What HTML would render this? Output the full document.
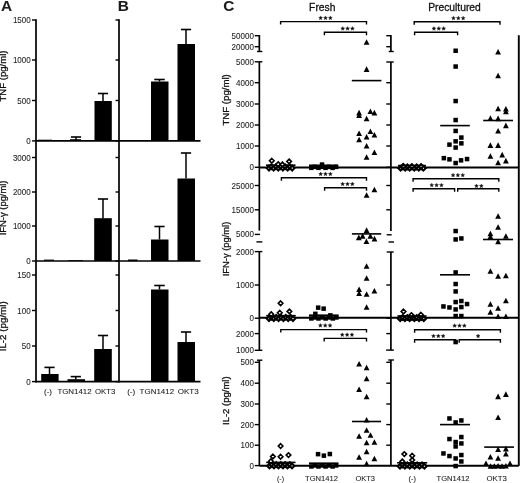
<!DOCTYPE html>
<html><head><meta charset="utf-8"><style>
html,body{margin:0;padding:0;background:#fff;}
svg{display:block;will-change:transform;}
text{font-family:"Liberation Sans",sans-serif;fill:#1c1c1c;stroke:#1c1c1c;stroke-width:0.08;}
line{stroke:#000;stroke-linecap:butt;}
.f{fill:#000;}
text.vt{fill:#111;stroke:#111;stroke-width:0.3;}
.d{fill:#fff;stroke:#000;stroke-width:1.6;}
.d2{fill:#fff;stroke:#000;stroke-width:2.1;}
.s{fill:#111;stroke:#111;stroke-width:0.35;stroke-linejoin:round;}
.b{fill:none;stroke:#000;stroke-width:1.4;}
</style></head><body>
<svg width="520" height="483" viewBox="0 0 520 483">
<rect width="520" height="483" fill="#fff"/>
<text x="0.9" y="10.7" font-size="15.4" text-anchor="start" font-weight="bold">A</text>
<text x="117.7" y="10.7" font-size="15.4" text-anchor="start" font-weight="bold">B</text>
<text x="223.2" y="10.7" font-size="15.4" text-anchor="start" font-weight="bold">C</text>
<line x1="36.0" y1="19.3" x2="36.0" y2="382.4" stroke-width="1.7"/>
<line x1="32.0" y1="20" x2="36.0" y2="20" stroke-width="1.4"/>
<text x="30.7" y="23.024" font-size="8.4" text-anchor="end" textLength="17.8" lengthAdjust="spacingAndGlyphs">1500</text>
<line x1="32.0" y1="60" x2="36.0" y2="60" stroke-width="1.4"/>
<text x="30.7" y="63.024" font-size="8.4" text-anchor="end" textLength="17.8" lengthAdjust="spacingAndGlyphs">1000</text>
<line x1="32.0" y1="100.5" x2="36.0" y2="100.5" stroke-width="1.4"/>
<text x="30.7" y="103.524" font-size="8.4" text-anchor="end" textLength="13.35" lengthAdjust="spacingAndGlyphs">500</text>
<line x1="32.0" y1="140.9" x2="36.0" y2="140.9" stroke-width="1.4"/>
<text x="30.7" y="143.924" font-size="8.4" text-anchor="end" textLength="4.45" lengthAdjust="spacingAndGlyphs">0</text>
<line x1="32.0" y1="157.5" x2="36.0" y2="157.5" stroke-width="1.4"/>
<text x="30.7" y="160.524" font-size="8.4" text-anchor="end" textLength="17.8" lengthAdjust="spacingAndGlyphs">3000</text>
<line x1="32.0" y1="192" x2="36.0" y2="192" stroke-width="1.4"/>
<text x="30.7" y="195.024" font-size="8.4" text-anchor="end" textLength="17.8" lengthAdjust="spacingAndGlyphs">2000</text>
<line x1="32.0" y1="226" x2="36.0" y2="226" stroke-width="1.4"/>
<text x="30.7" y="229.024" font-size="8.4" text-anchor="end" textLength="17.8" lengthAdjust="spacingAndGlyphs">1000</text>
<line x1="32.0" y1="261.0" x2="36.0" y2="261.0" stroke-width="1.4"/>
<text x="30.7" y="264.024" font-size="8.4" text-anchor="end" textLength="4.45" lengthAdjust="spacingAndGlyphs">0</text>
<line x1="32.0" y1="275" x2="36.0" y2="275" stroke-width="1.4"/>
<text x="30.7" y="278.024" font-size="8.4" text-anchor="end" textLength="13.35" lengthAdjust="spacingAndGlyphs">150</text>
<line x1="32.0" y1="310.5" x2="36.0" y2="310.5" stroke-width="1.4"/>
<text x="30.7" y="313.524" font-size="8.4" text-anchor="end" textLength="13.35" lengthAdjust="spacingAndGlyphs">100</text>
<line x1="32.0" y1="346" x2="36.0" y2="346" stroke-width="1.4"/>
<text x="30.7" y="349.024" font-size="8.4" text-anchor="end" textLength="8.9" lengthAdjust="spacingAndGlyphs">50</text>
<line x1="32.0" y1="381.6" x2="36.0" y2="381.6" stroke-width="1.4"/>
<text x="30.7" y="384.624" font-size="8.4" text-anchor="end" textLength="4.45" lengthAdjust="spacingAndGlyphs">0</text>
<text x="0" y="0" font-size="9.9" text-anchor="middle" transform="translate(5.9,76.05) rotate(-90)" textLength="51.0" lengthAdjust="spacingAndGlyphs" class="vt">TNF (pg/ml)</text>
<text x="0" y="0" font-size="9.9" text-anchor="middle" transform="translate(5.9,207.9) rotate(-90)" textLength="54.8" lengthAdjust="spacingAndGlyphs" class="vt">IFN-γ (pg/ml)</text>
<text x="0" y="0" font-size="9.9" text-anchor="middle" transform="translate(5.9,326.3) rotate(-90)" textLength="50.0" lengthAdjust="spacingAndGlyphs" class="vt">IL-2 (pg/ml)</text>
<line x1="36.0" y1="140.9" x2="200.5" y2="140.9" stroke-width="1.7"/>
<line x1="36.0" y1="261.0" x2="200.5" y2="261.0" stroke-width="1.7"/>
<line x1="36.0" y1="381.6" x2="200.5" y2="381.6" stroke-width="1.7"/>
<line x1="38" y1="140.2" x2="52" y2="140.2" stroke-width="1.0"/>
<line x1="76.0" y1="137.0" x2="76.0" y2="140.9" stroke-width="1.5"/>
<line x1="70.9" y1="137.0" x2="81.1" y2="137.0" stroke-width="1.6"/>
<line x1="70" y1="139.8" x2="81" y2="139.8" stroke-width="1.2"/>
<rect class="f" x="94.5" y="101.0" width="17.299999999999997" height="39.900000000000006"/>
<line x1="103.0" y1="93.5" x2="103.0" y2="101" stroke-width="1.5"/>
<line x1="97.9" y1="93.5" x2="108.1" y2="93.5" stroke-width="1.6"/>
<line x1="44" y1="260.2" x2="54" y2="260.2" stroke-width="1.2"/>
<line x1="68.5" y1="260.5" x2="83" y2="260.5" stroke-width="0.8"/>
<rect class="f" x="94.2" y="218.2" width="17.599999999999994" height="42.80000000000001"/>
<line x1="103.0" y1="199.0" x2="103.0" y2="218.5" stroke-width="1.5"/>
<line x1="97.9" y1="199.0" x2="108.1" y2="199.0" stroke-width="1.6"/>
<rect class="f" x="41.2" y="374.0" width="17.4" height="7.0"/>
<line x1="49.5" y1="367.4" x2="49.5" y2="374" stroke-width="1.5"/>
<line x1="44.4" y1="367.4" x2="54.6" y2="367.4" stroke-width="1.6"/>
<rect class="f" x="67.5" y="379.2" width="17.5" height="1.8000000000000114"/>
<line x1="75.8" y1="376.6" x2="75.8" y2="379.5" stroke-width="1.5"/>
<line x1="70.7" y1="376.6" x2="80.89999999999999" y2="376.6" stroke-width="1.6"/>
<rect class="f" x="94.2" y="349.0" width="17.599999999999994" height="32.0"/>
<line x1="103.0" y1="335.5" x2="103.0" y2="349" stroke-width="1.5"/>
<line x1="97.9" y1="335.5" x2="108.1" y2="335.5" stroke-width="1.6"/>
<text x="48.0" y="394.0" font-size="7.8" text-anchor="middle" textLength="8.0" lengthAdjust="spacingAndGlyphs">(-)</text>
<text x="74.5" y="394.0" font-size="7.8" text-anchor="middle" textLength="34.2" lengthAdjust="spacingAndGlyphs">TGN1412</text>
<text x="105.2" y="394.0" font-size="7.8" text-anchor="middle" textLength="20.4" lengthAdjust="spacingAndGlyphs">OKT3</text>
<line x1="119.0" y1="19.3" x2="119.0" y2="382.4" stroke-width="1.7"/>
<line x1="115.5" y1="20" x2="119.0" y2="20" stroke-width="1.4"/>
<line x1="115.5" y1="60" x2="119.0" y2="60" stroke-width="1.4"/>
<line x1="115.5" y1="100.5" x2="119.0" y2="100.5" stroke-width="1.4"/>
<line x1="115.5" y1="140.9" x2="119.0" y2="140.9" stroke-width="1.4"/>
<line x1="115.5" y1="157.5" x2="119.0" y2="157.5" stroke-width="1.4"/>
<line x1="115.5" y1="192" x2="119.0" y2="192" stroke-width="1.4"/>
<line x1="115.5" y1="226" x2="119.0" y2="226" stroke-width="1.4"/>
<line x1="115.5" y1="261.0" x2="119.0" y2="261.0" stroke-width="1.4"/>
<line x1="115.5" y1="275" x2="119.0" y2="275" stroke-width="1.4"/>
<line x1="115.5" y1="310.5" x2="119.0" y2="310.5" stroke-width="1.4"/>
<line x1="115.5" y1="346" x2="119.0" y2="346" stroke-width="1.4"/>
<line x1="115.5" y1="381.6" x2="119.0" y2="381.6" stroke-width="1.4"/>
<rect class="f" x="151.0" y="81.5" width="17.5" height="59.400000000000006"/>
<line x1="159.5" y1="79.5" x2="159.5" y2="81.5" stroke-width="1.5"/>
<line x1="154.25" y1="79.5" x2="164.75" y2="79.5" stroke-width="1.6"/>
<rect class="f" x="177.5" y="44.0" width="17.5" height="96.9"/>
<line x1="186.0" y1="29.5" x2="186.0" y2="44.0" stroke-width="1.5"/>
<line x1="180.9" y1="29.5" x2="191.1" y2="29.5" stroke-width="1.6"/>
<line x1="128" y1="260.3" x2="137.5" y2="260.3" stroke-width="1.6"/>
<rect class="f" x="151.0" y="239.5" width="17.5" height="21.5"/>
<line x1="159.5" y1="226.5" x2="159.5" y2="239.5" stroke-width="1.5"/>
<line x1="154.4" y1="226.5" x2="164.6" y2="226.5" stroke-width="1.6"/>
<rect class="f" x="177.5" y="178.5" width="17.5" height="82.5"/>
<line x1="186.0" y1="153.0" x2="186.0" y2="178.5" stroke-width="1.5"/>
<line x1="180.9" y1="153.0" x2="191.1" y2="153.0" stroke-width="1.6"/>
<rect class="f" x="151.0" y="289.5" width="17.5" height="91.5"/>
<line x1="159.5" y1="285.5" x2="159.5" y2="289.5" stroke-width="1.5"/>
<line x1="154.25" y1="285.5" x2="164.75" y2="285.5" stroke-width="1.6"/>
<rect class="f" x="177.5" y="342.0" width="17.5" height="39.0"/>
<line x1="186.0" y1="332.0" x2="186.0" y2="342" stroke-width="1.5"/>
<line x1="180.9" y1="332.0" x2="191.1" y2="332.0" stroke-width="1.6"/>
<text x="131.2" y="394.0" font-size="7.8" text-anchor="middle" textLength="8.0" lengthAdjust="spacingAndGlyphs">(-)</text>
<text x="156.9" y="394.0" font-size="7.8" text-anchor="middle" textLength="34.6" lengthAdjust="spacingAndGlyphs">TGN1412</text>
<text x="188.2" y="394.0" font-size="7.8" text-anchor="middle" textLength="21.0" lengthAdjust="spacingAndGlyphs">OKT3</text>
<text x="309.1" y="10.9" font-size="10.6" text-anchor="start" textLength="26.3" lengthAdjust="spacingAndGlyphs" class="vt">Fresh</text>
<text x="428.2" y="10.9" font-size="10.6" text-anchor="start" textLength="52.6" lengthAdjust="spacingAndGlyphs" class="vt">Precultured</text>
<line x1="259.35" y1="35.0" x2="259.35" y2="51.5" stroke-width="1.7"/>
<line x1="254.75000000000003" y1="35.7" x2="259.35" y2="35.7" stroke-width="1.4"/>
<text x="253.85000000000002" y="38.724000000000004" font-size="8.4" text-anchor="end" textLength="22.25" lengthAdjust="spacingAndGlyphs">50000</text>
<line x1="254.75000000000003" y1="46.7" x2="259.35" y2="46.7" stroke-width="1.4"/>
<text x="253.85000000000002" y="49.724000000000004" font-size="8.4" text-anchor="end" textLength="22.25" lengthAdjust="spacingAndGlyphs">20000</text>
<line x1="256.95000000000005" y1="51.5" x2="262.35" y2="51.5" stroke-width="1.4"/>
<line x1="259.35" y1="61.8" x2="259.35" y2="230.6" stroke-width="1.7"/>
<line x1="254.75000000000003" y1="61.8" x2="262.35" y2="61.8" stroke-width="1.4"/>
<text x="253.85000000000002" y="64.824" font-size="8.4" text-anchor="end" textLength="17.8" lengthAdjust="spacingAndGlyphs">5000</text>
<line x1="254.75000000000003" y1="82.7" x2="259.35" y2="82.7" stroke-width="1.4"/>
<text x="253.85000000000002" y="85.724" font-size="8.4" text-anchor="end" textLength="17.8" lengthAdjust="spacingAndGlyphs">4000</text>
<line x1="254.75000000000003" y1="104" x2="259.35" y2="104" stroke-width="1.4"/>
<text x="253.85000000000002" y="107.024" font-size="8.4" text-anchor="end" textLength="17.8" lengthAdjust="spacingAndGlyphs">3000</text>
<line x1="254.75000000000003" y1="125" x2="259.35" y2="125" stroke-width="1.4"/>
<text x="253.85000000000002" y="128.024" font-size="8.4" text-anchor="end" textLength="17.8" lengthAdjust="spacingAndGlyphs">2000</text>
<line x1="254.75000000000003" y1="146" x2="259.35" y2="146" stroke-width="1.4"/>
<text x="253.85000000000002" y="149.024" font-size="8.4" text-anchor="end" textLength="17.8" lengthAdjust="spacingAndGlyphs">1000</text>
<line x1="254.75000000000003" y1="167.3" x2="259.35" y2="167.3" stroke-width="1.4"/>
<text x="253.85000000000002" y="170.324" font-size="8.4" text-anchor="end" textLength="4.45" lengthAdjust="spacingAndGlyphs">0</text>
<line x1="254.75000000000003" y1="185.5" x2="259.35" y2="185.5" stroke-width="1.4"/>
<text x="253.85000000000002" y="188.524" font-size="8.4" text-anchor="end" textLength="22.25" lengthAdjust="spacingAndGlyphs">25000</text>
<line x1="254.75000000000003" y1="209.8" x2="259.35" y2="209.8" stroke-width="1.4"/>
<text x="253.85000000000002" y="212.824" font-size="8.4" text-anchor="end" textLength="22.25" lengthAdjust="spacingAndGlyphs">15000</text>
<line x1="254.75000000000003" y1="234.4" x2="259.95000000000005" y2="234.4" stroke-width="1.4"/>
<text x="253.85000000000002" y="237.424" font-size="8.4" text-anchor="end" textLength="17.8" lengthAdjust="spacingAndGlyphs">5000</text>
<line x1="256.45000000000005" y1="241.9" x2="262.35" y2="241.9" stroke-width="1.4"/>
<line x1="259.35" y1="251.6" x2="259.35" y2="350.3" stroke-width="1.7"/>
<line x1="254.75000000000003" y1="251.6" x2="262.35" y2="251.6" stroke-width="1.4"/>
<text x="253.85000000000002" y="254.624" font-size="8.4" text-anchor="end" textLength="17.8" lengthAdjust="spacingAndGlyphs">2000</text>
<line x1="254.75000000000003" y1="285" x2="259.35" y2="285" stroke-width="1.4"/>
<text x="253.85000000000002" y="288.024" font-size="8.4" text-anchor="end" textLength="17.8" lengthAdjust="spacingAndGlyphs">1000</text>
<line x1="254.75000000000003" y1="318.2" x2="259.35" y2="318.2" stroke-width="1.4"/>
<text x="253.85000000000002" y="321.224" font-size="8.4" text-anchor="end" textLength="4.45" lengthAdjust="spacingAndGlyphs">0</text>
<line x1="254.75000000000003" y1="333.6" x2="259.35" y2="333.6" stroke-width="1.4"/>
<text x="253.85000000000002" y="336.624" font-size="8.4" text-anchor="end" textLength="17.8" lengthAdjust="spacingAndGlyphs">2000</text>
<line x1="254.75000000000003" y1="350.3" x2="262.35" y2="350.3" stroke-width="1.4"/>
<text x="253.85000000000002" y="353.324" font-size="8.4" text-anchor="end" textLength="17.8" lengthAdjust="spacingAndGlyphs">1000</text>
<line x1="259.35" y1="360.2" x2="259.35" y2="466.0" stroke-width="1.7"/>
<line x1="256.95000000000005" y1="360.2" x2="262.35" y2="360.2" stroke-width="1.4"/>
<line x1="254.75000000000003" y1="362.3" x2="259.35" y2="362.3" stroke-width="1.4"/>
<text x="253.85000000000002" y="365.324" font-size="8.4" text-anchor="end" textLength="13.35" lengthAdjust="spacingAndGlyphs">500</text>
<line x1="254.75000000000003" y1="383.2" x2="259.35" y2="383.2" stroke-width="1.4"/>
<text x="253.85000000000002" y="386.224" font-size="8.4" text-anchor="end" textLength="13.35" lengthAdjust="spacingAndGlyphs">400</text>
<line x1="254.75000000000003" y1="404.0" x2="259.35" y2="404.0" stroke-width="1.4"/>
<text x="253.85000000000002" y="407.024" font-size="8.4" text-anchor="end" textLength="13.35" lengthAdjust="spacingAndGlyphs">300</text>
<line x1="254.75000000000003" y1="424.6" x2="259.35" y2="424.6" stroke-width="1.4"/>
<text x="253.85000000000002" y="427.624" font-size="8.4" text-anchor="end" textLength="13.35" lengthAdjust="spacingAndGlyphs">200</text>
<line x1="254.75000000000003" y1="445.2" x2="259.35" y2="445.2" stroke-width="1.4"/>
<text x="253.85000000000002" y="448.224" font-size="8.4" text-anchor="end" textLength="13.35" lengthAdjust="spacingAndGlyphs">100</text>
<line x1="254.75000000000003" y1="465.6" x2="259.35" y2="465.6" stroke-width="1.4"/>
<text x="253.85000000000002" y="468.624" font-size="8.4" text-anchor="end" textLength="4.45" lengthAdjust="spacingAndGlyphs">0</text>
<text x="0" y="0" font-size="9.9" text-anchor="middle" transform="translate(228.5,99.9) rotate(-90)" textLength="51.3" lengthAdjust="spacingAndGlyphs" class="vt">TNF (pg/ml)</text>
<text x="0" y="0" font-size="9.9" text-anchor="middle" transform="translate(228.5,249.0) rotate(-90)" textLength="54.6" lengthAdjust="spacingAndGlyphs" class="vt">IFN-γ (pg/ml)</text>
<text x="0" y="0" font-size="9.9" text-anchor="middle" transform="translate(228.7,400.7) rotate(-90)" textLength="48.5" lengthAdjust="spacingAndGlyphs" class="vt">IL-2 (pg/ml)</text>
<line x1="390.9" y1="35.0" x2="390.9" y2="51.5" stroke-width="1.7"/>
<line x1="386.29999999999995" y1="35.7" x2="390.9" y2="35.7" stroke-width="1.4"/>
<line x1="386.29999999999995" y1="46.7" x2="390.9" y2="46.7" stroke-width="1.4"/>
<line x1="388.7" y1="51.5" x2="393.7" y2="51.5" stroke-width="1.4"/>
<line x1="390.9" y1="62.0" x2="390.9" y2="231.0" stroke-width="1.7"/>
<line x1="386.29999999999995" y1="62.0" x2="393.7" y2="62.0" stroke-width="1.4"/>
<line x1="386.29999999999995" y1="82.7" x2="390.9" y2="82.7" stroke-width="1.4"/>
<line x1="386.29999999999995" y1="104" x2="390.9" y2="104" stroke-width="1.4"/>
<line x1="386.29999999999995" y1="125" x2="390.9" y2="125" stroke-width="1.4"/>
<line x1="386.29999999999995" y1="146" x2="390.9" y2="146" stroke-width="1.4"/>
<line x1="386.29999999999995" y1="167.3" x2="390.9" y2="167.3" stroke-width="1.4"/>
<line x1="386.29999999999995" y1="185.5" x2="390.9" y2="185.5" stroke-width="1.4"/>
<line x1="386.29999999999995" y1="209.8" x2="390.9" y2="209.8" stroke-width="1.4"/>
<line x1="386.7" y1="234.8" x2="391.7" y2="234.8" stroke-width="1.4"/>
<line x1="388.5" y1="242.0" x2="394.0" y2="242.0" stroke-width="1.4"/>
<line x1="390.9" y1="252.0" x2="390.9" y2="350.2" stroke-width="1.7"/>
<line x1="386.7" y1="252.0" x2="393.7" y2="252.0" stroke-width="1.4"/>
<line x1="386.29999999999995" y1="285" x2="390.9" y2="285" stroke-width="1.4"/>
<line x1="386.29999999999995" y1="318.2" x2="390.9" y2="318.2" stroke-width="1.4"/>
<line x1="386.29999999999995" y1="333.6" x2="390.9" y2="333.6" stroke-width="1.4"/>
<line x1="386.09999999999997" y1="350.1" x2="393.9" y2="350.1" stroke-width="1.4"/>
<line x1="390.9" y1="360.0" x2="390.9" y2="466.0" stroke-width="1.7"/>
<line x1="388.29999999999995" y1="360.0" x2="393.9" y2="360.0" stroke-width="1.4"/>
<line x1="386.29999999999995" y1="362.3" x2="390.9" y2="362.3" stroke-width="1.4"/>
<line x1="386.29999999999995" y1="383.2" x2="390.9" y2="383.2" stroke-width="1.4"/>
<line x1="386.29999999999995" y1="404.0" x2="390.9" y2="404.0" stroke-width="1.4"/>
<line x1="386.29999999999995" y1="424.6" x2="390.9" y2="424.6" stroke-width="1.4"/>
<line x1="386.29999999999995" y1="445.2" x2="390.9" y2="445.2" stroke-width="1.4"/>
<line x1="518.8" y1="35.2" x2="518.8" y2="466.0" stroke-width="1.9"/>
<line x1="259.35" y1="167.5" x2="518.8" y2="167.5" stroke-width="1.9"/>
<line x1="259.35" y1="317.8" x2="518.8" y2="317.8" stroke-width="1.9"/>
<line x1="259.35" y1="465.7" x2="518.8" y2="465.7" stroke-width="1.9"/>
<path class="b" d="M280.6,24.6 V21.6 H366.5 V24.6"/>
<polygon class="s" points="320.65,15.95 321.21,17.23 322.60,17.37 321.55,18.29 321.85,19.66 320.65,18.95 319.45,19.66 319.75,18.29 318.70,17.37 320.09,17.23"/>
<polygon class="s" points="325.50,15.95 326.06,17.23 327.45,17.37 326.40,18.29 326.70,19.66 325.50,18.95 324.30,19.66 324.60,18.29 323.55,17.37 324.94,17.23"/>
<polygon class="s" points="330.35,15.95 330.91,17.23 332.30,17.37 331.25,18.29 331.55,19.66 330.35,18.95 329.15,19.66 329.45,18.29 328.40,17.37 329.79,17.23"/>
<path class="b" d="M324.4,35.2 V32.2 H366.5 V35.2"/>
<polygon class="s" points="342.75,26.55 343.31,27.83 344.70,27.97 343.65,28.89 343.95,30.26 342.75,29.55 341.55,30.26 341.85,28.89 340.80,27.97 342.19,27.83"/>
<polygon class="s" points="347.60,26.55 348.16,27.83 349.55,27.97 348.50,28.89 348.80,30.26 347.60,29.55 346.40,30.26 346.70,28.89 345.65,27.97 347.04,27.83"/>
<polygon class="s" points="352.45,26.55 353.01,27.83 354.40,27.97 353.35,28.89 353.65,30.26 352.45,29.55 351.25,30.26 351.55,28.89 350.50,27.97 351.89,27.83"/>
<path class="b" d="M414.2,24.8 V21.8 H500.0 V24.8"/>
<polygon class="s" points="453.45,16.15 454.01,17.43 455.40,17.57 454.35,18.49 454.65,19.86 453.45,19.15 452.25,19.86 452.55,18.49 451.50,17.57 452.89,17.43"/>
<polygon class="s" points="458.30,16.15 458.86,17.43 460.25,17.57 459.20,18.49 459.50,19.86 458.30,19.15 457.10,19.86 457.40,18.49 456.35,17.57 457.74,17.43"/>
<polygon class="s" points="463.15,16.15 463.71,17.43 465.10,17.57 464.05,18.49 464.35,19.86 463.15,19.15 461.95,19.86 462.25,18.49 461.20,17.57 462.59,17.43"/>
<path class="b" d="M414.6,35.2 V32.2 H457.6 V35.2"/>
<polygon class="s" points="433.95,26.55 434.51,27.83 435.90,27.97 434.85,28.89 435.15,30.26 433.95,29.55 432.75,30.26 433.05,28.89 432.00,27.97 433.39,27.83"/>
<polygon class="s" points="438.80,26.55 439.36,27.83 440.75,27.97 439.70,28.89 440.00,30.26 438.80,29.55 437.60,30.26 437.90,28.89 436.85,27.97 438.24,27.83"/>
<polygon class="s" points="443.65,26.55 444.21,27.83 445.60,27.97 444.55,28.89 444.85,30.26 443.65,29.55 442.45,30.26 442.75,28.89 441.70,27.97 443.09,27.83"/>
<path class="b" d="M281.4,180.7 V177.7 H366.5 V180.7"/>
<polygon class="s" points="320.65,172.05 321.21,173.33 322.60,173.47 321.55,174.39 321.85,175.76 320.65,175.05 319.45,175.76 319.75,174.39 318.70,173.47 320.09,173.33"/>
<polygon class="s" points="325.50,172.05 326.06,173.33 327.45,173.47 326.40,174.39 326.70,175.76 325.50,175.05 324.30,175.76 324.60,174.39 323.55,173.47 324.94,173.33"/>
<polygon class="s" points="330.35,172.05 330.91,173.33 332.30,173.47 331.25,174.39 331.55,175.76 330.35,175.05 329.15,175.76 329.45,174.39 328.40,173.47 329.79,173.33"/>
<path class="b" d="M324.6,190.7 V187.7 H366.5 V190.7"/>
<polygon class="s" points="342.65,182.05 343.21,183.33 344.60,183.47 343.55,184.39 343.85,185.76 342.65,185.05 341.45,185.76 341.75,184.39 340.70,183.47 342.09,183.33"/>
<polygon class="s" points="347.50,182.05 348.06,183.33 349.45,183.47 348.40,184.39 348.70,185.76 347.50,185.05 346.30,185.76 346.60,184.39 345.55,183.47 346.94,183.33"/>
<polygon class="s" points="352.35,182.05 352.91,183.33 354.30,183.47 353.25,184.39 353.55,185.76 352.35,185.05 351.15,185.76 351.45,184.39 350.40,183.47 351.79,183.33"/>
<path class="b" d="M413.1,181.8 V178.8 H498.8 V181.8"/>
<polygon class="s" points="453.05,173.15 453.61,174.43 455.00,174.57 453.95,175.49 454.25,176.86 453.05,176.15 451.85,176.86 452.15,175.49 451.10,174.57 452.49,174.43"/>
<polygon class="s" points="457.90,173.15 458.46,174.43 459.85,174.57 458.80,175.49 459.10,176.86 457.90,176.15 456.70,176.86 457.00,175.49 455.95,174.57 457.34,174.43"/>
<polygon class="s" points="462.75,173.15 463.31,174.43 464.70,174.57 463.65,175.49 463.95,176.86 462.75,176.15 461.55,176.86 461.85,175.49 460.80,174.57 462.19,174.43"/>
<path class="b" d="M413.1,191.8 V188.8 H454.6 V191.8"/>
<polygon class="s" points="431.75,183.15 432.31,184.43 433.70,184.57 432.65,185.49 432.95,186.86 431.75,186.15 430.55,186.86 430.85,185.49 429.80,184.57 431.19,184.43"/>
<polygon class="s" points="436.60,183.15 437.16,184.43 438.55,184.57 437.50,185.49 437.80,186.86 436.60,186.15 435.40,186.86 435.70,185.49 434.65,184.57 436.04,184.43"/>
<polygon class="s" points="441.45,183.15 442.01,184.43 443.40,184.57 442.35,185.49 442.65,186.86 441.45,186.15 440.25,186.86 440.55,185.49 439.50,184.57 440.89,184.43"/>
<path class="b" d="M457.7,191.8 V188.8 H498.8 V191.8"/>
<polygon class="s" points="476.47,183.95 477.03,185.23 478.42,185.37 477.38,186.29 477.68,187.66 476.47,186.95 475.27,187.66 475.57,186.29 474.53,185.37 475.92,185.23"/>
<polygon class="s" points="481.32,183.95 481.88,185.23 483.27,185.37 482.23,186.29 482.53,187.66 481.32,186.95 480.12,187.66 480.42,186.29 479.38,185.37 480.77,185.23"/>
<path class="b" d="M280.8,332.6 V329.6 H366.5 V332.6"/>
<polygon class="s" points="320.35,323.45 320.91,324.73 322.30,324.87 321.25,325.79 321.55,327.16 320.35,326.45 319.15,327.16 319.45,325.79 318.40,324.87 319.79,324.73"/>
<polygon class="s" points="325.20,323.45 325.76,324.73 327.15,324.87 326.10,325.79 326.40,327.16 325.20,326.45 324.00,327.16 324.30,325.79 323.25,324.87 324.64,324.73"/>
<polygon class="s" points="330.05,323.45 330.61,324.73 332.00,324.87 330.95,325.79 331.25,327.16 330.05,326.45 328.85,327.16 329.15,325.79 328.10,324.87 329.49,324.73"/>
<path class="b" d="M324.2,341.4 V338.4 H366.5 V341.4"/>
<polygon class="s" points="342.25,332.75 342.81,334.03 344.20,334.17 343.15,335.09 343.45,336.46 342.25,335.75 341.05,336.46 341.35,335.09 340.30,334.17 341.69,334.03"/>
<polygon class="s" points="347.10,332.75 347.66,334.03 349.05,334.17 348.00,335.09 348.30,336.46 347.10,335.75 345.90,336.46 346.20,335.09 345.15,334.17 346.54,334.03"/>
<polygon class="s" points="351.95,332.75 352.51,334.03 353.90,334.17 352.85,335.09 353.15,336.46 351.95,335.75 350.75,336.46 351.05,335.09 350.00,334.17 351.39,334.03"/>
<path class="b" d="M414.6,332.7 V329.7 H500.4 V332.7"/>
<polygon class="s" points="454.65,323.65 455.21,324.93 456.60,325.07 455.55,325.99 455.85,327.36 454.65,326.65 453.45,327.36 453.75,325.99 452.70,325.07 454.09,324.93"/>
<polygon class="s" points="459.50,323.65 460.06,324.93 461.45,325.07 460.40,325.99 460.70,327.36 459.50,326.65 458.30,327.36 458.60,325.99 457.55,325.07 458.94,324.93"/>
<polygon class="s" points="464.35,323.65 464.91,324.93 466.30,325.07 465.25,325.99 465.55,327.36 464.35,326.65 463.15,327.36 463.45,325.99 462.40,325.07 463.79,324.93"/>
<path class="b" d="M414.6,342.7 V339.7 H455.6 V342.7"/>
<polygon class="s" points="433.45,334.05 434.01,335.33 435.40,335.47 434.35,336.39 434.65,337.76 433.45,337.05 432.25,337.76 432.55,336.39 431.50,335.47 432.89,335.33"/>
<polygon class="s" points="438.30,334.05 438.86,335.33 440.25,335.47 439.20,336.39 439.50,337.76 438.30,337.05 437.10,337.76 437.40,336.39 436.35,335.47 437.74,335.33"/>
<polygon class="s" points="443.15,334.05 443.71,335.33 445.10,335.47 444.05,336.39 444.35,337.76 443.15,337.05 441.95,337.76 442.25,336.39 441.20,335.47 442.59,335.33"/>
<path class="b" d="M459.2,342.7 V339.7 H500.4 V342.7"/>
<polygon class="s" points="478.10,334.05 478.66,335.33 480.05,335.47 479.00,336.39 479.30,337.76 478.10,337.05 476.90,337.76 477.20,336.39 476.15,335.47 477.54,335.33"/>
<polygon class="d2" points="269.0,165.8 271.3,168.1 269.0,170.4 266.7,168.1"/>
<polygon class="d2" points="271.3,164.5 273.6,166.8 271.3,169.1 269.0,166.8"/>
<polygon class="d2" points="273.6,165.8 275.9,168.1 273.6,170.4 271.3,168.1"/>
<polygon class="d2" points="276.0,164.5 278.3,166.8 276.0,169.1 273.7,166.8"/>
<polygon class="d2" points="278.3,165.8 280.6,168.1 278.3,170.4 276.0,168.1"/>
<polygon class="d2" points="280.6,164.5 282.9,166.8 280.6,169.1 278.3,166.8"/>
<polygon class="d2" points="282.9,165.8 285.2,168.1 282.9,170.4 280.6,168.1"/>
<polygon class="d2" points="285.2,164.5 287.5,166.8 285.2,169.1 282.9,166.8"/>
<polygon class="d2" points="287.6,165.8 289.9,168.1 287.6,170.4 285.3,168.1"/>
<polygon class="d2" points="289.9,164.5 292.2,166.8 289.9,169.1 287.6,166.8"/>
<polygon class="d2" points="292.2,165.8 294.5,168.1 292.2,170.4 289.9,168.1"/>
<line x1="266.0" y1="165.2" x2="295.5" y2="165.2" stroke-width="1.6"/>
<polygon class="d" points="271.8,158.5 274.1,160.8 271.8,163.1 269.5,160.8"/>
<polygon class="d" points="289.1,159.1 291.4,161.4 289.1,163.7 286.8,161.4"/>
<polygon class="d" points="278.2,161.9 280.5,164.2 278.2,166.5 275.9,164.2"/>
<polygon class="d" points="282.4,162.1 284.7,164.4 282.4,166.7 280.1,164.4"/>
<polygon class="d2" points="269.0,316.3 271.3,318.6 269.0,320.9 266.7,318.6"/>
<polygon class="d2" points="271.4,315.0 273.7,317.3 271.4,319.6 269.1,317.3"/>
<polygon class="d2" points="273.8,316.3 276.1,318.6 273.8,320.9 271.5,318.6"/>
<polygon class="d2" points="276.2,315.0 278.5,317.3 276.2,319.6 273.9,317.3"/>
<polygon class="d2" points="278.6,316.3 280.9,318.6 278.6,320.9 276.3,318.6"/>
<polygon class="d2" points="281.0,315.0 283.3,317.3 281.0,319.6 278.7,317.3"/>
<polygon class="d2" points="283.4,316.3 285.7,318.6 283.4,320.9 281.1,318.6"/>
<polygon class="d2" points="285.8,315.0 288.1,317.3 285.8,319.6 283.5,317.3"/>
<polygon class="d2" points="288.2,316.3 290.5,318.6 288.2,320.9 285.9,318.6"/>
<polygon class="d2" points="290.6,315.0 292.9,317.3 290.6,319.6 288.3,317.3"/>
<polygon class="d2" points="293.0,316.3 295.3,318.6 293.0,320.9 290.7,318.6"/>
<line x1="266.2" y1="315.7" x2="295.8" y2="315.7" stroke-width="1.6"/>
<polygon class="d" points="280.6,301.0 282.9,303.3 280.6,305.6 278.3,303.3"/>
<polygon class="d" points="289.4,309.1 291.7,311.4 289.4,313.7 287.1,311.4"/>
<polygon class="d" points="279.8,310.5 282.1,312.8 279.8,315.1 277.5,312.8"/>
<polygon class="d" points="271.2,311.9 273.5,314.2 271.2,316.5 268.9,314.2"/>
<polygon class="d2" points="269.5,463.6 271.8,465.9 269.5,468.2 267.2,465.9"/>
<polygon class="d2" points="271.8,462.3 274.1,464.6 271.8,466.9 269.4,464.6"/>
<polygon class="d2" points="274.0,463.6 276.3,465.9 274.0,468.2 271.7,465.9"/>
<polygon class="d2" points="276.2,462.3 278.6,464.6 276.2,466.9 273.9,464.6"/>
<polygon class="d2" points="278.5,463.6 280.8,465.9 278.5,468.2 276.2,465.9"/>
<polygon class="d2" points="280.8,462.3 283.1,464.6 280.8,466.9 278.4,464.6"/>
<polygon class="d2" points="283.0,463.6 285.3,465.9 283.0,468.2 280.7,465.9"/>
<polygon class="d2" points="285.2,462.3 287.6,464.6 285.2,466.9 282.9,464.6"/>
<polygon class="d2" points="287.5,463.6 289.8,465.9 287.5,468.2 285.2,465.9"/>
<polygon class="d2" points="289.8,462.3 292.1,464.6 289.8,466.9 287.4,464.6"/>
<polygon class="d2" points="292.0,463.6 294.3,465.9 292.0,468.2 289.7,465.9"/>
<line x1="266.2" y1="462.4" x2="295.5" y2="462.4" stroke-width="1.6"/>
<polygon class="d" points="280.6,443.7 282.9,446.0 280.6,448.3 278.3,446.0"/>
<polygon class="d" points="272.9,454.2 275.2,456.5 272.9,458.8 270.6,456.5"/>
<polygon class="d" points="280.6,454.5 282.9,456.8 280.6,459.1 278.3,456.8"/>
<polygon class="d" points="288.5,452.8 290.8,455.1 288.5,457.4 286.2,455.1"/>
<polygon class="d" points="270.9,458.9 273.2,461.2 270.9,463.5 268.6,461.2"/>
<rect class="f" x="309.1" y="165.6" width="4.5" height="4.5"/>
<rect class="f" x="312.6" y="164.6" width="4.5" height="4.5"/>
<rect class="f" x="316.2" y="165.6" width="4.5" height="4.5"/>
<rect class="f" x="319.7" y="164.6" width="4.5" height="4.5"/>
<rect class="f" x="323.3" y="165.6" width="4.5" height="4.5"/>
<rect class="f" x="326.8" y="164.6" width="4.5" height="4.5"/>
<rect class="f" x="330.4" y="165.6" width="4.5" height="4.5"/>
<rect class="f" x="333.9" y="164.6" width="4.5" height="4.5"/>
<line x1="309.0" y1="165.3" x2="337.6" y2="165.3" stroke-width="1.6"/>
<rect class="f" x="319.8" y="162.3" width="4.5" height="4.5"/>
<rect class="f" x="315.9" y="305.4" width="4.5" height="4.5"/>
<rect class="f" x="321.4" y="306.4" width="4.5" height="4.5"/>
<rect class="f" x="313.1" y="311.6" width="4.5" height="4.5"/>
<rect class="f" x="328.1" y="313.1" width="4.5" height="4.5"/>
<rect class="f" x="309.1" y="316.2" width="4.5" height="4.5"/>
<rect class="f" x="312.6" y="315.2" width="4.5" height="4.5"/>
<rect class="f" x="316.2" y="316.2" width="4.5" height="4.5"/>
<rect class="f" x="319.8" y="315.2" width="4.5" height="4.5"/>
<rect class="f" x="323.4" y="316.2" width="4.5" height="4.5"/>
<rect class="f" x="327.0" y="315.2" width="4.5" height="4.5"/>
<rect class="f" x="330.6" y="316.2" width="4.5" height="4.5"/>
<rect class="f" x="334.1" y="315.2" width="4.5" height="4.5"/>
<line x1="309.0" y1="315.2" x2="338.6" y2="315.2" stroke-width="1.6"/>
<rect class="f" x="315.8" y="451.9" width="4.5" height="4.5"/>
<rect class="f" x="321.6" y="453.4" width="4.5" height="4.5"/>
<rect class="f" x="327.6" y="451.8" width="4.5" height="4.5"/>
<rect class="f" x="309.1" y="464.2" width="4.5" height="4.5"/>
<rect class="f" x="312.6" y="463.2" width="4.5" height="4.5"/>
<rect class="f" x="316.2" y="464.2" width="4.5" height="4.5"/>
<rect class="f" x="319.7" y="463.2" width="4.5" height="4.5"/>
<rect class="f" x="323.3" y="464.2" width="4.5" height="4.5"/>
<rect class="f" x="326.8" y="463.2" width="4.5" height="4.5"/>
<rect class="f" x="330.4" y="464.2" width="4.5" height="4.5"/>
<rect class="f" x="333.9" y="463.2" width="4.5" height="4.5"/>
<line x1="309.0" y1="463.2" x2="338.4" y2="463.2" stroke-width="1.6"/>
<polygon class="f" points="366.6,39.2 369.5,44.8 363.7,44.8"/>
<polygon class="f" points="366.6,66.3 369.5,71.9 363.7,71.9"/>
<polygon class="f" points="359.1,109.8 362.0,115.4 356.2,115.4"/>
<polygon class="f" points="359.1,112.4 362.0,118.0 356.2,118.0"/>
<polygon class="f" points="370.4,108.5 373.3,114.1 367.5,114.1"/>
<polygon class="f" points="374.4,109.8 377.3,115.4 371.5,115.4"/>
<polygon class="f" points="366.6,115.7 369.5,121.3 363.7,121.3"/>
<polygon class="f" points="359.1,130.5 362.0,136.1 356.2,136.1"/>
<polygon class="f" points="370.4,128.4 373.3,134.0 367.5,134.0"/>
<polygon class="f" points="374.4,131.9 377.3,137.5 371.5,137.5"/>
<polygon class="f" points="366.6,134.0 369.5,139.6 363.7,139.6"/>
<polygon class="f" points="359.1,136.7 362.0,142.3 356.2,142.3"/>
<polygon class="f" points="366.6,143.0 369.5,148.6 363.7,148.6"/>
<polygon class="f" points="374.4,149.4 377.3,155.0 371.5,155.0"/>
<polygon class="f" points="366.6,154.2 369.5,159.8 363.7,159.8"/>
<line x1="351.8" y1="80.6" x2="381.4" y2="80.6" stroke-width="1.6"/>
<polygon class="f" points="374.4,186.7 377.3,192.3 371.5,192.3"/>
<polygon class="f" points="366.6,192.2 369.5,197.8 363.7,197.8"/>
<polygon class="f" points="366.6,227.3 369.5,232.9 363.7,232.9"/>
<polygon class="f" points="358.8,234.6 361.7,240.2 355.9,240.2"/>
<polygon class="f" points="362.6,233.1 365.5,238.7 359.7,238.7"/>
<polygon class="f" points="370.4,233.1 373.3,238.7 367.5,238.7"/>
<polygon class="f" points="374.5,235.8 377.4,241.4 371.6,241.4"/>
<polygon class="f" points="366.4,238.4 369.3,244.0 363.5,244.0"/>
<polygon class="f" points="366.6,263.2 369.5,268.8 363.7,268.8"/>
<polygon class="f" points="366.6,275.2 369.5,280.8 363.7,280.8"/>
<polygon class="f" points="359.1,286.4 362.0,292.0 356.2,292.0"/>
<polygon class="f" points="359.1,290.4 362.0,296.0 356.2,296.0"/>
<polygon class="f" points="366.6,291.2 369.5,296.8 363.7,296.8"/>
<polygon class="f" points="374.4,287.9 377.3,293.5 371.5,293.5"/>
<polygon class="f" points="366.6,304.2 369.5,309.8 363.7,309.8"/>
<line x1="351.9" y1="233.9" x2="381.2" y2="233.9" stroke-width="1.6"/>
<polygon class="f" points="359.1,361.0 362.0,366.6 356.2,366.6"/>
<polygon class="f" points="366.6,364.7 369.5,370.3 363.7,370.3"/>
<polygon class="f" points="366.6,375.7 369.5,381.3 363.7,381.3"/>
<polygon class="f" points="359.1,386.5 362.0,392.1 356.2,392.1"/>
<polygon class="f" points="366.6,393.7 369.5,399.3 363.7,399.3"/>
<polygon class="f" points="366.6,417.0 369.5,422.6 363.7,422.6"/>
<polygon class="f" points="366.6,427.2 369.5,432.8 363.7,432.8"/>
<polygon class="f" points="359.1,433.2 362.0,438.8 356.2,438.8"/>
<polygon class="f" points="370.5,432.2 373.4,437.8 367.6,437.8"/>
<polygon class="f" points="366.6,439.7 369.5,445.3 363.7,445.3"/>
<polygon class="f" points="374.4,439.2 377.3,444.8 371.5,444.8"/>
<polygon class="f" points="366.6,448.7 369.5,454.3 363.7,454.3"/>
<polygon class="f" points="359.1,454.2 362.0,459.8 356.2,459.8"/>
<polygon class="f" points="374.4,455.7 377.3,461.3 371.5,461.3"/>
<polygon class="f" points="366.6,460.7 369.5,466.3 363.7,466.3"/>
<line x1="352.0" y1="421.5" x2="381.0" y2="421.5" stroke-width="1.6"/>
<polygon class="d2" points="400.6,165.9 402.9,168.2 400.6,170.5 398.3,168.2"/>
<polygon class="d2" points="402.9,164.6 405.2,166.9 402.9,169.2 400.6,166.9"/>
<polygon class="d2" points="405.2,165.9 407.5,168.2 405.2,170.5 402.9,168.2"/>
<polygon class="d2" points="407.4,164.6 409.7,166.9 407.4,169.2 405.1,166.9"/>
<polygon class="d2" points="409.7,165.9 412.0,168.2 409.7,170.5 407.4,168.2"/>
<polygon class="d2" points="412.0,164.6 414.3,166.9 412.0,169.2 409.7,166.9"/>
<polygon class="d2" points="414.3,165.9 416.6,168.2 414.3,170.5 412.0,168.2"/>
<polygon class="d2" points="416.6,164.6 418.9,166.9 416.6,169.2 414.3,166.9"/>
<polygon class="d2" points="418.8,165.9 421.1,168.2 418.8,170.5 416.5,168.2"/>
<polygon class="d2" points="421.1,164.6 423.4,166.9 421.1,169.2 418.8,166.9"/>
<polygon class="d2" points="423.4,165.9 425.7,168.2 423.4,170.5 421.1,168.2"/>
<polygon class="d" points="403.4,163.7 405.7,166.0 403.4,168.3 401.1,166.0"/>
<polygon class="d" points="411.8,164.0 414.1,166.3 411.8,168.6 409.5,166.3"/>
<polygon class="d" points="421.1,164.0 423.4,166.3 421.1,168.6 418.8,166.3"/>
<line x1="398.0" y1="165.6" x2="426.0" y2="165.6" stroke-width="1.6"/>
<polygon class="d2" points="400.2,316.5 402.5,318.8 400.2,321.1 397.9,318.8"/>
<polygon class="d2" points="402.6,315.2 404.9,317.5 402.6,319.8 400.3,317.5"/>
<polygon class="d2" points="404.9,316.5 407.2,318.8 404.9,321.1 402.6,318.8"/>
<polygon class="d2" points="407.3,315.2 409.6,317.5 407.3,319.8 405.0,317.5"/>
<polygon class="d2" points="409.6,316.5 411.9,318.8 409.6,321.1 407.3,318.8"/>
<polygon class="d2" points="412.0,315.2 414.3,317.5 412.0,319.8 409.7,317.5"/>
<polygon class="d2" points="414.4,316.5 416.7,318.8 414.4,321.1 412.1,318.8"/>
<polygon class="d2" points="416.7,315.2 419.0,317.5 416.7,319.8 414.4,317.5"/>
<polygon class="d2" points="419.1,316.5 421.4,318.8 419.1,321.1 416.8,318.8"/>
<polygon class="d2" points="421.4,315.2 423.7,317.5 421.4,319.8 419.1,317.5"/>
<polygon class="d2" points="423.8,316.5 426.1,318.8 423.8,321.1 421.5,318.8"/>
<polygon class="d" points="403.5,309.2 405.8,311.5 403.5,313.8 401.2,311.5"/>
<polygon class="d" points="411.4,312.8 413.7,315.1 411.4,317.4 409.1,315.1"/>
<polygon class="d" points="420.9,312.5 423.2,314.8 420.9,317.1 418.6,314.8"/>
<line x1="397.4" y1="316.0" x2="426.6" y2="316.0" stroke-width="1.6"/>
<polygon class="d2" points="400.0,463.9 402.3,466.2 400.0,468.5 397.7,466.2"/>
<polygon class="d2" points="402.4,462.6 404.7,464.9 402.4,467.2 400.1,464.9"/>
<polygon class="d2" points="404.9,463.9 407.2,466.2 404.9,468.5 402.6,466.2"/>
<polygon class="d2" points="407.3,462.6 409.6,464.9 407.3,467.2 405.0,464.9"/>
<polygon class="d2" points="409.8,463.9 412.1,466.2 409.8,468.5 407.5,466.2"/>
<polygon class="d2" points="412.2,462.6 414.5,464.9 412.2,467.2 409.9,464.9"/>
<polygon class="d2" points="414.6,463.9 416.9,466.2 414.6,468.5 412.3,466.2"/>
<polygon class="d2" points="417.1,462.6 419.4,464.9 417.1,467.2 414.8,464.9"/>
<polygon class="d2" points="419.5,463.9 421.8,466.2 419.5,468.5 417.2,466.2"/>
<polygon class="d2" points="422.0,462.6 424.3,464.9 422.0,467.2 419.7,464.9"/>
<polygon class="d2" points="424.4,463.9 426.7,466.2 424.4,468.5 422.1,466.2"/>
<polygon class="d" points="404.3,451.8 406.6,454.1 404.3,456.4 402.0,454.1"/>
<polygon class="d" points="412.2,453.5 414.5,455.8 412.2,458.1 409.9,455.8"/>
<polygon class="d" points="412.2,457.8 414.5,460.1 412.2,462.4 409.9,460.1"/>
<polygon class="d" points="402.3,459.1 404.6,461.4 402.3,463.7 400.0,461.4"/>
<line x1="397.1" y1="462.8" x2="427.2" y2="462.8" stroke-width="1.6"/>
<rect class="f" x="453.4" y="48.5" width="4.5" height="4.5"/>
<rect class="f" x="453.4" y="64.3" width="4.5" height="4.5"/>
<rect class="f" x="453.4" y="98.8" width="4.5" height="4.5"/>
<rect class="f" x="453.4" y="117.8" width="4.5" height="4.5"/>
<rect class="f" x="453.4" y="128.7" width="4.5" height="4.5"/>
<rect class="f" x="459.1" y="135.3" width="4.5" height="4.5"/>
<rect class="f" x="453.4" y="139.1" width="4.5" height="4.5"/>
<rect class="f" x="459.1" y="141.1" width="4.5" height="4.5"/>
<rect class="f" x="447.2" y="142.4" width="4.5" height="4.5"/>
<rect class="f" x="453.4" y="145.3" width="4.5" height="4.5"/>
<rect class="f" x="441.6" y="155.9" width="4.5" height="4.5"/>
<rect class="f" x="447.2" y="157.1" width="4.5" height="4.5"/>
<rect class="f" x="458.8" y="158.1" width="4.5" height="4.5"/>
<rect class="f" x="464.8" y="156.8" width="4.5" height="4.5"/>
<rect class="f" x="453.4" y="160.8" width="4.5" height="4.5"/>
<line x1="440.2" y1="125.6" x2="469.8" y2="125.6" stroke-width="1.6"/>
<rect class="f" x="453.4" y="228.8" width="4.5" height="4.5"/>
<rect class="f" x="453.4" y="237.2" width="4.5" height="4.5"/>
<rect class="f" x="459.1" y="236.2" width="4.5" height="4.5"/>
<rect class="f" x="453.4" y="270.2" width="4.5" height="4.5"/>
<rect class="f" x="453.4" y="281.8" width="4.5" height="4.5"/>
<rect class="f" x="453.4" y="289.2" width="4.5" height="4.5"/>
<rect class="f" x="453.4" y="299.8" width="4.5" height="4.5"/>
<rect class="f" x="459.1" y="298.8" width="4.5" height="4.5"/>
<rect class="f" x="464.8" y="301.8" width="4.5" height="4.5"/>
<rect class="f" x="441.2" y="304.2" width="4.5" height="4.5"/>
<rect class="f" x="447.2" y="305.2" width="4.5" height="4.5"/>
<rect class="f" x="453.4" y="307.2" width="4.5" height="4.5"/>
<rect class="f" x="459.1" y="304.8" width="4.5" height="4.5"/>
<rect class="f" x="453.4" y="313.8" width="4.5" height="4.5"/>
<rect class="f" x="459.1" y="313.8" width="4.5" height="4.5"/>
<line x1="440.0" y1="274.8" x2="470.0" y2="274.8" stroke-width="1.6"/>
<rect class="f" x="453.4" y="339.8" width="4.5" height="4.5"/>
<rect class="f" x="447.2" y="416.2" width="4.5" height="4.5"/>
<rect class="f" x="459.1" y="418.2" width="4.5" height="4.5"/>
<rect class="f" x="453.4" y="420.2" width="4.5" height="4.5"/>
<rect class="f" x="447.2" y="436.8" width="4.5" height="4.5"/>
<rect class="f" x="459.1" y="434.8" width="4.5" height="4.5"/>
<rect class="f" x="453.4" y="439.8" width="4.5" height="4.5"/>
<rect class="f" x="459.1" y="441.2" width="4.5" height="4.5"/>
<rect class="f" x="453.4" y="444.2" width="4.5" height="4.5"/>
<rect class="f" x="441.2" y="451.2" width="4.5" height="4.5"/>
<rect class="f" x="447.2" y="453.8" width="4.5" height="4.5"/>
<rect class="f" x="459.1" y="452.8" width="4.5" height="4.5"/>
<rect class="f" x="453.4" y="456.2" width="4.5" height="4.5"/>
<rect class="f" x="459.1" y="459.2" width="4.5" height="4.5"/>
<rect class="f" x="453.4" y="463.8" width="4.5" height="4.5"/>
<line x1="440.0" y1="424.6" x2="470.0" y2="424.6" stroke-width="1.6"/>
<polygon class="f" points="498.1,49.0 501.0,54.6 495.2,54.6"/>
<polygon class="f" points="498.1,72.7 501.0,78.3 495.2,78.3"/>
<polygon class="f" points="498.1,105.7 501.0,111.3 495.2,111.3"/>
<polygon class="f" points="505.9,105.9 508.8,111.5 503.0,111.5"/>
<polygon class="f" points="505.9,108.6 508.8,114.2 503.0,114.2"/>
<polygon class="f" points="490.4,115.3 493.3,120.9 487.5,120.9"/>
<polygon class="f" points="498.1,115.6 501.0,121.2 495.2,121.2"/>
<polygon class="f" points="505.9,122.6 508.8,128.2 503.0,128.2"/>
<polygon class="f" points="498.1,128.0 501.0,133.6 495.2,133.6"/>
<polygon class="f" points="490.4,142.3 493.3,147.9 487.5,147.9"/>
<polygon class="f" points="498.1,142.3 501.0,147.9 495.2,147.9"/>
<polygon class="f" points="490.4,153.2 493.3,158.8 487.5,158.8"/>
<polygon class="f" points="502.2,151.8 505.1,157.4 499.3,157.4"/>
<polygon class="f" points="498.1,159.7 501.0,165.3 495.2,165.3"/>
<polygon class="f" points="505.9,157.8 508.8,163.4 503.0,163.4"/>
<line x1="483.2" y1="120.5" x2="513.0" y2="120.5" stroke-width="1.6"/>
<polygon class="f" points="498.1,213.2 501.0,218.8 495.2,218.8"/>
<polygon class="f" points="498.1,224.2 501.0,229.8 495.2,229.8"/>
<polygon class="f" points="490.4,230.7 493.3,236.3 487.5,236.3"/>
<polygon class="f" points="490.4,233.7 493.3,239.3 487.5,239.3"/>
<polygon class="f" points="505.9,233.2 508.8,238.8 503.0,238.8"/>
<polygon class="f" points="498.1,238.7 501.0,244.3 495.2,244.3"/>
<polygon class="f" points="490.4,268.2 493.3,273.8 487.5,273.8"/>
<polygon class="f" points="498.1,273.2 501.0,278.8 495.2,278.8"/>
<polygon class="f" points="505.9,272.7 508.8,278.3 503.0,278.3"/>
<polygon class="f" points="505.9,297.7 508.8,303.3 503.0,303.3"/>
<polygon class="f" points="490.4,301.2 493.3,306.8 487.5,306.8"/>
<polygon class="f" points="498.1,305.2 501.0,310.8 495.2,310.8"/>
<polygon class="f" points="490.4,309.2 493.3,314.8 487.5,314.8"/>
<polygon class="f" points="498.1,313.5 501.0,319.1 495.2,319.1"/>
<polygon class="f" points="505.9,313.5 508.8,319.1 503.0,319.1"/>
<line x1="483.0" y1="239.5" x2="513.0" y2="239.5" stroke-width="1.6"/>
<polygon class="f" points="498.1,393.6 501.0,399.2 495.2,399.2"/>
<polygon class="f" points="505.9,391.3 508.8,396.9 503.0,396.9"/>
<polygon class="f" points="498.1,414.5 501.0,420.1 495.2,420.1"/>
<polygon class="f" points="498.1,446.5 501.0,452.1 495.2,452.1"/>
<polygon class="f" points="505.9,445.8 508.8,451.4 503.0,451.4"/>
<polygon class="f" points="505.9,451.0 508.8,456.6 503.0,456.6"/>
<polygon class="f" points="490.4,454.0 493.3,459.6 487.5,459.6"/>
<polygon class="f" points="498.1,455.2 501.0,460.8 495.2,460.8"/>
<polygon class="f" points="486.0,460.5 488.9,466.1 483.1,466.1"/>
<polygon class="f" points="490.5,463.2 493.4,468.8 487.6,468.8"/>
<polygon class="f" points="494.3,463.2 497.2,468.8 491.4,468.8"/>
<polygon class="f" points="498.1,463.0 501.0,468.6 495.2,468.6"/>
<polygon class="f" points="502.0,463.2 504.9,468.8 499.1,468.8"/>
<polygon class="f" points="505.9,463.0 508.8,468.6 503.0,468.6"/>
<polygon class="f" points="510.0,460.5 512.9,466.1 507.1,466.1"/>
<line x1="484.2" y1="447.1" x2="514.0" y2="447.1" stroke-width="1.6"/>
<text x="280.5" y="481.2" font-size="8.1" text-anchor="middle" textLength="7.0" lengthAdjust="spacingAndGlyphs">(-)</text>
<text x="321.5" y="481.2" font-size="8.1" text-anchor="middle" textLength="33.0" lengthAdjust="spacingAndGlyphs">TGN1412</text>
<text x="365.2" y="481.2" font-size="8.1" text-anchor="middle" textLength="19.5" lengthAdjust="spacingAndGlyphs">OKT3</text>
<text x="412.2" y="480.7" font-size="8.1" text-anchor="middle" textLength="7.5" lengthAdjust="spacingAndGlyphs">(-)</text>
<text x="453.0" y="480.7" font-size="8.1" text-anchor="middle" textLength="33.0" lengthAdjust="spacingAndGlyphs">TGN1412</text>
<text x="496.7" y="480.7" font-size="8.1" text-anchor="middle" textLength="20.5" lengthAdjust="spacingAndGlyphs">OKT3</text>
</svg>
</body></html>
